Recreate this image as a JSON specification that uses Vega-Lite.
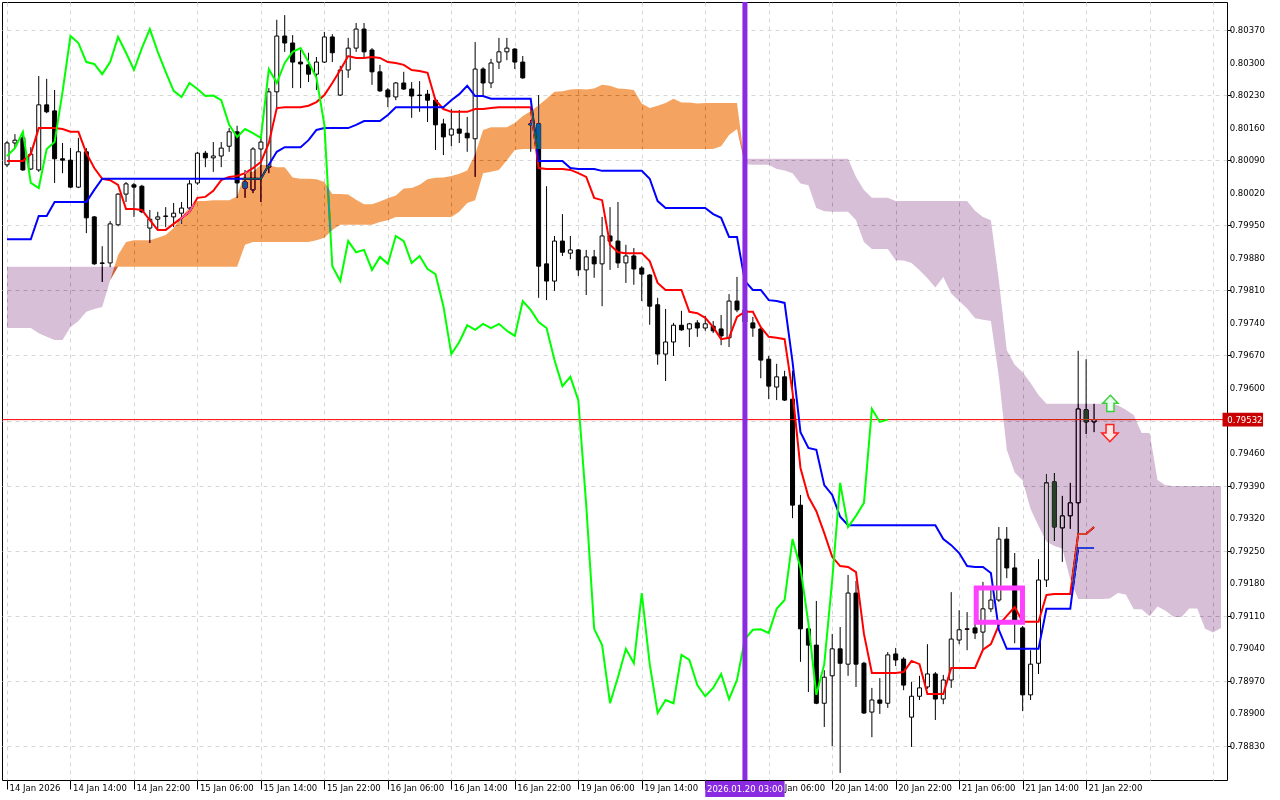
{
  "$schema": "https://vega.github.io/schema/vega-lite/v6.json",
  "width": 1225,
  "height": 778,
  "autosize": {"type": "none"},
  "padding": {"left": 2, "top": 2, "right": 53, "bottom": 20},
  "background": "#ffffff",
  "config": {"view": {"stroke": "#000000", "strokeWidth": 1}, "font": "DejaVu Sans"},
  "datasets": {
    "bars": [
      {"i":0,"o":0.80080,"h":0.80131,"l":0.80075,"c":0.80127,"t":0.80088,"k":0.79920,"g":0.80099},
      {"i":1,"o":0.80127,"h":0.80146,"l":0.80116,"c":0.80133,"t":0.80088,"k":0.79920,"g":0.80116},
      {"i":2,"o":0.80138,"h":0.80151,"l":0.80067,"c":0.80069,"t":0.80088,"k":0.79920,"g":0.80151},
      {"i":3,"o":0.80071,"h":0.80118,"l":0.80069,"c":0.80103,"t":0.80103,"k":0.79920,"g":0.80041},
      {"i":4,"o":0.80069,"h":0.80271,"l":0.80065,"c":0.80209,"t":0.80159,"k":0.79970,"g":0.80030},
      {"i":5,"o":0.80209,"h":0.80265,"l":0.80191,"c":0.80194,"t":0.80159,"k":0.79970,"g":0.80114},
      {"i":6,"o":0.80196,"h":0.80241,"l":0.80041,"c":0.80093,"t":0.80159,"k":0.80000,"g":0.80129},
      {"i":7,"o":0.80093,"h":0.80127,"l":0.80062,"c":0.80090,"t":0.80157,"k":0.80000,"g":0.80237},
      {"i":8,"o":0.80090,"h":0.80116,"l":0.80030,"c":0.80032,"t":0.80151,"k":0.80000,"g":0.80357},
      {"i":9,"o":0.80032,"h":0.80138,"l":0.80030,"c":0.80108,"t":0.80151,"k":0.80000,"g":0.80342},
      {"i":10,"o":0.80108,"h":0.80116,"l":0.79933,"c":0.79966,"t":0.80105,"k":0.80000,"g":0.80301},
      {"i":11,"o":0.79968,"h":0.79970,"l":0.79865,"c":0.79867,"t":0.80073,"k":0.80026,"g":0.80297},
      {"i":12,"o":0.79869,"h":0.79905,"l":0.79828,"c":0.79868,"t":0.80050,"k":0.80050,"g":0.80275},
      {"i":13,"o":0.79869,"h":0.79959,"l":0.79860,"c":0.79953,"t":0.80047,"k":0.80050,"g":0.80301},
      {"i":14,"o":0.79951,"h":0.80019,"l":0.79948,"c":0.80017,"t":0.80037,"k":0.80050,"g":0.80355},
      {"i":15,"o":0.80017,"h":0.80043,"l":0.80000,"c":0.80039,"t":0.79985,"k":0.80050,"g":0.80321},
      {"i":16,"o":0.80037,"h":0.80041,"l":0.79968,"c":0.80032,"t":0.79985,"k":0.80050,"g":0.80284},
      {"i":17,"o":0.80034,"h":0.80037,"l":0.79976,"c":0.79979,"t":0.79983,"k":0.80050,"g":0.80331},
      {"i":18,"o":0.79944,"h":0.79983,"l":0.79912,"c":0.79963,"t":0.79961,"k":0.80050,"g":0.80372},
      {"i":19,"o":0.79963,"h":0.79979,"l":0.79940,"c":0.79968,"t":0.79940,"k":0.80050,"g":0.80323},
      {"i":20,"o":0.79970,"h":0.79989,"l":0.79946,"c":0.79969,"t":0.79940,"k":0.80050,"g":0.80280},
      {"i":21,"o":0.79968,"h":0.79998,"l":0.79946,"c":0.79976,"t":0.79953,"k":0.80050,"g":0.80239},
      {"i":22,"o":0.79976,"h":0.80000,"l":0.79953,"c":0.79987,"t":0.79966,"k":0.80050,"g":0.80226},
      {"i":23,"o":0.79987,"h":0.80047,"l":0.79983,"c":0.80039,"t":0.79979,"k":0.80050,"g":0.80256},
      {"i":24,"o":0.80041,"h":0.80108,"l":0.80037,"c":0.80105,"t":0.80009,"k":0.80050,"g":0.80243},
      {"i":25,"o":0.80105,"h":0.80110,"l":0.80075,"c":0.80095,"t":0.80011,"k":0.80050,"g":0.80228},
      {"i":26,"o":0.80095,"h":0.80129,"l":0.80065,"c":0.80099,"t":0.80024,"k":0.80050,"g":0.80229},
      {"i":27,"o":0.80099,"h":0.80129,"l":0.80075,"c":0.80116,"t":0.80047,"k":0.80050,"g":0.80219},
      {"i":28,"o":0.80120,"h":0.80159,"l":0.80108,"c":0.80151,"t":0.80054,"k":0.80050,"g":0.80166},
      {"i":29,"o":0.80151,"h":0.80164,"l":0.80009,"c":0.80041,"t":0.80056,"k":0.80050,"g":0.80140},
      {"i":30,"o":0.80043,"h":0.80069,"l":0.80009,"c":0.80030,"t":0.80062,"k":0.80050,"g":0.80157},
      {"i":31,"o":0.80026,"h":0.80118,"l":0.80019,"c":0.80114,"t":0.80073,"k":0.80050,"g":0.80148},
      {"i":32,"o":0.80114,"h":0.80138,"l":0.80000,"c":0.80129,"t":0.80086,"k":0.80050,"g":0.80138},
      {"i":33,"o":0.80075,"h":0.80245,"l":0.80062,"c":0.80237,"t":0.80127,"k":0.80080,"g":0.80286},
      {"i":34,"o":0.80237,"h":0.80392,"l":0.80198,"c":0.80357,"t":0.80202,"k":0.80108,"g":0.80256},
      {"i":35,"o":0.80357,"h":0.80402,"l":0.80323,"c":0.80342,"t":0.80204,"k":0.80118,"g":0.80299},
      {"i":36,"o":0.80342,"h":0.80359,"l":0.80245,"c":0.80301,"t":0.80204,"k":0.80118,"g":0.80323},
      {"i":37,"o":0.80301,"h":0.80327,"l":0.80245,"c":0.80297,"t":0.80204,"k":0.80118,"g":0.80331},
      {"i":38,"o":0.80295,"h":0.80321,"l":0.80258,"c":0.80275,"t":0.80207,"k":0.80133,"g":0.80301},
      {"i":39,"o":0.80275,"h":0.80312,"l":0.80241,"c":0.80301,"t":0.80215,"k":0.80155,"g":0.80267},
      {"i":40,"o":0.80301,"h":0.80366,"l":0.80299,"c":0.80355,"t":0.80230,"k":0.80159,"g":0.80166},
      {"i":41,"o":0.80355,"h":0.80361,"l":0.80301,"c":0.80321,"t":0.80256,"k":0.80159,"g":0.79862},
      {"i":42,"o":0.80230,"h":0.80293,"l":0.80228,"c":0.80284,"t":0.80284,"k":0.80159,"g":0.79830},
      {"i":43,"o":0.80284,"h":0.80353,"l":0.80267,"c":0.80331,"t":0.80314,"k":0.80159,"g":0.79916},
      {"i":44,"o":0.80331,"h":0.80385,"l":0.80323,"c":0.80372,"t":0.80310,"k":0.80166,"g":0.79892},
      {"i":45,"o":0.80372,"h":0.80385,"l":0.80310,"c":0.80323,"t":0.80310,"k":0.80174,"g":0.79897},
      {"i":46,"o":0.80327,"h":0.80331,"l":0.80252,"c":0.80280,"t":0.80312,"k":0.80174,"g":0.79854},
      {"i":47,"o":0.80280,"h":0.80295,"l":0.80237,"c":0.80239,"t":0.80310,"k":0.80174,"g":0.79882},
      {"i":48,"o":0.80241,"h":0.80245,"l":0.80204,"c":0.80226,"t":0.80301,"k":0.80187,"g":0.79867},
      {"i":49,"o":0.80226,"h":0.80258,"l":0.80219,"c":0.80256,"t":0.80299,"k":0.80204,"g":0.79927},
      {"i":50,"o":0.80256,"h":0.80280,"l":0.80241,"c":0.80243,"t":0.80295,"k":0.80204,"g":0.79916},
      {"i":51,"o":0.80243,"h":0.80258,"l":0.80181,"c":0.80228,"t":0.80284,"k":0.80204,"g":0.79869},
      {"i":52,"o":0.80230,"h":0.80260,"l":0.80194,"c":0.80229,"t":0.80282,"k":0.80204,"g":0.79884},
      {"i":53,"o":0.80232,"h":0.80241,"l":0.80172,"c":0.80219,"t":0.80278,"k":0.80204,"g":0.79856},
      {"i":54,"o":0.80219,"h":0.80224,"l":0.80112,"c":0.80166,"t":0.80219,"k":0.80204,"g":0.79845},
      {"i":55,"o":0.80168,"h":0.80179,"l":0.80101,"c":0.80140,"t":0.80200,"k":0.80204,"g":0.79776},
      {"i":56,"o":0.80144,"h":0.80200,"l":0.80120,"c":0.80157,"t":0.80194,"k":0.80219,"g":0.79673},
      {"i":57,"o":0.80157,"h":0.80198,"l":0.80127,"c":0.80148,"t":0.80194,"k":0.80232,"g":0.79699},
      {"i":58,"o":0.80148,"h":0.80183,"l":0.80108,"c":0.80138,"t":0.80194,"k":0.80250,"g":0.79735},
      {"i":59,"o":0.80136,"h":0.80344,"l":0.80054,"c":0.80286,"t":0.80200,"k":0.80228,"g":0.79725},
      {"i":60,"o":0.80286,"h":0.80290,"l":0.80226,"c":0.80256,"t":0.80200,"k":0.80228,"g":0.79738},
      {"i":61,"o":0.80256,"h":0.80308,"l":0.80245,"c":0.80299,"t":0.80202,"k":0.80222,"g":0.79729},
      {"i":62,"o":0.80301,"h":0.80353,"l":0.80286,"c":0.80323,"t":0.80204,"k":0.80222,"g":0.79738},
      {"i":63,"o":0.80323,"h":0.80353,"l":0.80305,"c":0.80331,"t":0.80204,"k":0.80222,"g":0.79723},
      {"i":64,"o":0.80329,"h":0.80331,"l":0.80286,"c":0.80301,"t":0.80204,"k":0.80222,"g":0.79712},
      {"i":65,"o":0.80301,"h":0.80314,"l":0.80265,"c":0.80267,"t":0.80204,"k":0.80222,"g":0.79787},
      {"i":66,"o":0.80168,"h":0.80176,"l":0.80108,"c":0.80166,"t":0.80204,"k":0.80222,"g":0.79768},
      {"i":67,"o":0.80168,"h":0.80230,"l":0.79794,"c":0.79862,"t":0.80073,"k":0.80088,"g":0.79742},
      {"i":68,"o":0.79867,"h":0.80034,"l":0.79789,"c":0.79830,"t":0.80071,"k":0.80088,"g":0.79729},
      {"i":69,"o":0.79830,"h":0.79927,"l":0.79809,"c":0.79916,"t":0.80071,"k":0.80088,"g":0.79660},
      {"i":70,"o":0.79916,"h":0.79974,"l":0.79884,"c":0.79892,"t":0.80071,"k":0.80088,"g":0.79604},
      {"i":71,"o":0.79890,"h":0.79927,"l":0.79877,"c":0.79897,"t":0.80069,"k":0.80073,"g":0.79624},
      {"i":72,"o":0.79897,"h":0.79899,"l":0.79841,"c":0.79854,"t":0.80062,"k":0.80071,"g":0.79574},
      {"i":73,"o":0.79854,"h":0.79897,"l":0.79800,"c":0.79882,"t":0.80054,"k":0.80071,"g":0.79348},
      {"i":74,"o":0.79882,"h":0.79897,"l":0.79837,"c":0.79867,"t":0.80009,"k":0.80071,"g":0.79082},
      {"i":75,"o":0.79867,"h":0.79968,"l":0.79776,"c":0.79927,"t":0.80004,"k":0.80067,"g":0.79047},
      {"i":76,"o":0.79927,"h":0.79989,"l":0.79854,"c":0.79916,"t":0.79908,"k":0.80067,"g":0.78922},
      {"i":77,"o":0.79916,"h":0.80000,"l":0.79858,"c":0.79869,"t":0.79892,"k":0.80067,"g":0.78978},
      {"i":78,"o":0.79869,"h":0.79908,"l":0.79826,"c":0.79884,"t":0.79890,"k":0.80067,"g":0.79039},
      {"i":79,"o":0.79884,"h":0.79901,"l":0.79822,"c":0.79856,"t":0.79890,"k":0.80067,"g":0.79008},
      {"i":80,"o":0.79858,"h":0.79862,"l":0.79787,"c":0.79845,"t":0.79890,"k":0.80067,"g":0.79159},
      {"i":81,"o":0.79843,"h":0.79845,"l":0.79736,"c":0.79776,"t":0.79873,"k":0.80050,"g":0.79006},
      {"i":82,"o":0.79779,"h":0.79794,"l":0.79650,"c":0.79673,"t":0.79826,"k":0.80002,"g":0.78901},
      {"i":83,"o":0.79673,"h":0.79770,"l":0.79615,"c":0.79699,"t":0.79811,"k":0.79987,"g":0.78929},
      {"i":84,"o":0.79699,"h":0.79740,"l":0.79669,"c":0.79735,"t":0.79811,"k":0.79987,"g":0.78922},
      {"i":85,"o":0.79735,"h":0.79766,"l":0.79723,"c":0.79725,"t":0.79811,"k":0.79987,"g":0.79026},
      {"i":86,"o":0.79727,"h":0.79740,"l":0.79688,"c":0.79738,"t":0.79764,"k":0.79987,"g":0.79015},
      {"i":87,"o":0.79740,"h":0.79746,"l":0.79710,"c":0.79729,"t":0.79761,"k":0.79987,"g":0.78961},
      {"i":88,"o":0.79729,"h":0.79755,"l":0.79723,"c":0.79738,"t":0.79751,"k":0.79987,"g":0.78937},
      {"i":89,"o":0.79733,"h":0.79744,"l":0.79718,"c":0.79723,"t":0.79731,"k":0.79974,"g":0.78955},
      {"i":90,"o":0.79727,"h":0.79757,"l":0.79692,"c":0.79712,"t":0.79705,"k":0.79966,"g":0.78985},
      {"i":91,"o":0.79708,"h":0.79802,"l":0.79688,"c":0.79787,"t":0.79708,"k":0.79925,"g":0.78931},
      {"i":92,"o":0.79787,"h":0.79839,"l":0.79763,"c":0.79768,"t":0.79753,"k":0.79925,"g":0.78972},
      {"i":93,"o":0.79768,"h":0.79783,"l":0.79729,"c":0.79742,"t":0.79764,"k":0.79830,"g":0.79060},
      {"i":94,"o":0.79740,"h":0.79753,"l":0.79710,"c":0.79729,"t":0.79764,"k":0.79811,"g":0.79080},
      {"i":95,"o":0.79727,"h":0.79731,"l":0.79621,"c":0.79660,"t":0.79731,"k":0.79811,"g":0.79081},
      {"i":96,"o":0.79662,"h":0.79669,"l":0.79576,"c":0.79604,"t":0.79710,"k":0.79789,"g":0.79073},
      {"i":97,"o":0.79602,"h":0.79652,"l":0.79574,"c":0.79624,"t":0.79708,"k":0.79787,"g":0.79125},
      {"i":98,"o":0.79624,"h":0.79637,"l":0.79572,"c":0.79574,"t":0.79705,"k":0.79783,"g":0.79144},
      {"i":99,"o":0.79576,"h":0.79637,"l":0.79320,"c":0.79348,"t":0.79591,"k":0.79656,"g":0.79275},
      {"i":100,"o":0.79348,"h":0.79370,"l":0.79011,"c":0.79082,"t":0.79428,"k":0.79505,"g":0.79213},
      {"i":101,"o":0.79082,"h":0.79086,"l":0.78946,"c":0.79047,"t":0.79366,"k":0.79471,"g":0.79094},
      {"i":102,"o":0.79047,"h":0.79142,"l":0.78920,"c":0.78922,"t":0.79335,"k":0.79467,"g":0.78940},
      {"i":103,"o":0.78922,"h":0.78993,"l":0.78871,"c":0.78978,"t":0.79288,"k":0.79391,"g":0.79006},
      {"i":104,"o":0.78981,"h":0.79071,"l":0.78830,"c":0.79039,"t":0.79237,"k":0.79370,"g":0.79187},
      {"i":105,"o":0.79039,"h":0.79086,"l":0.78772,"c":0.79008,"t":0.79217,"k":0.79323,"g":0.79396},
      {"i":106,"o":0.79006,"h":0.79198,"l":0.78981,"c":0.79159,"t":0.79215,"k":0.79305,"g":0.79301},
      {"i":107,"o":0.79159,"h":0.79185,"l":0.78957,"c":0.79006,"t":0.79204,"k":0.79305,"g":0.79325},
      {"i":108,"o":0.79008,"h":0.79011,"l":0.78899,"c":0.78901,"t":0.79071,"k":0.79305,"g":0.79353},
      {"i":109,"o":0.78903,"h":0.78955,"l":0.78849,"c":0.78929,"t":0.78987,"k":0.79305,"g":0.79555},
      {"i":110,"o":0.78929,"h":0.78976,"l":0.78899,"c":0.78922,"t":0.78987,"k":0.79305,"g":0.79527},
      {"i":111,"o":0.78922,"h":0.79032,"l":0.78912,"c":0.79026,"t":0.78987,"k":0.79305,"g":0.79532},
      {"i":112,"o":0.79028,"h":0.79041,"l":0.79002,"c":0.79015,"t":0.78987,"k":0.79305},
      {"i":113,"o":0.79017,"h":0.79021,"l":0.78950,"c":0.78961,"t":0.78989,"k":0.79305},
      {"i":114,"o":0.78892,"h":0.78968,"l":0.78828,"c":0.78937,"t":0.79013,"k":0.79305},
      {"i":115,"o":0.78937,"h":0.78981,"l":0.78929,"c":0.78955,"t":0.79006,"k":0.79305},
      {"i":116,"o":0.78957,"h":0.79049,"l":0.78953,"c":0.78985,"t":0.78942,"k":0.79305},
      {"i":117,"o":0.78985,"h":0.78989,"l":0.78886,"c":0.78931,"t":0.78942,"k":0.79305},
      {"i":118,"o":0.78931,"h":0.78983,"l":0.78920,"c":0.78972,"t":0.78942,"k":0.79275},
      {"i":119,"o":0.78972,"h":0.79161,"l":0.78955,"c":0.79060,"t":0.78998,"k":0.79262},
      {"i":120,"o":0.79058,"h":0.79122,"l":0.79049,"c":0.79080,"t":0.78998,"k":0.79245},
      {"i":121,"o":0.79082,"h":0.79118,"l":0.79036,"c":0.79081,"t":0.78998,"k":0.79217},
      {"i":122,"o":0.79084,"h":0.79101,"l":0.79060,"c":0.79073,"t":0.78998,"k":0.79215},
      {"i":123,"o":0.79075,"h":0.79183,"l":0.79036,"c":0.79125,"t":0.79037,"k":0.79215},
      {"i":124,"o":0.79125,"h":0.79168,"l":0.79118,"c":0.79144,"t":0.79049,"k":0.79202},
      {"i":125,"o":0.79144,"h":0.79301,"l":0.79140,"c":0.79275,"t":0.79090,"k":0.79080},
      {"i":126,"o":0.79275,"h":0.79301,"l":0.79191,"c":0.79213,"t":0.79110,"k":0.79039},
      {"i":127,"o":0.79213,"h":0.79245,"l":0.79051,"c":0.79094,"t":0.79129,"k":0.79039},
      {"i":128,"o":0.79084,"h":0.79088,"l":0.78905,"c":0.78940,"t":0.79097,"k":0.79039},
      {"i":129,"o":0.78940,"h":0.79036,"l":0.78929,"c":0.79006,"t":0.79097,"k":0.79039},
      {"i":130,"o":0.79008,"h":0.79232,"l":0.78985,"c":0.79187,"t":0.79097,"k":0.79039},
      {"i":131,"o":0.79187,"h":0.79415,"l":0.79172,"c":0.79396,"t":0.79155,"k":0.79125},
      {"i":132,"o":0.79398,"h":0.79417,"l":0.79271,"c":0.79301,"t":0.79157,"k":0.79125},
      {"i":133,"o":0.79299,"h":0.79368,"l":0.79226,"c":0.79325,"t":0.79157,"k":0.79125},
      {"i":134,"o":0.79325,"h":0.79396,"l":0.79297,"c":0.79353,"t":0.79157,"k":0.79125},
      {"i":135,"o":0.79353,"h":0.79680,"l":0.79288,"c":0.79555,"t":0.79286,"k":0.79256},
      {"i":136,"o":0.79553,"h":0.79662,"l":0.79501,"c":0.79527,"t":0.79286,"k":0.79256},
      {"i":137,"o":0.79527,"h":0.79566,"l":0.79505,"c":0.79532,"t":0.79301,"k":0.79256}
    ],
    "cloud": [
      {"i":0,"a":0.79729,"b":0.79861,"m":0.79729},
      {"i":1,"a":0.79729,"b":0.79861,"m":0.79729},
      {"i":2,"a":0.79729,"b":0.79861,"m":0.79729},
      {"i":3,"a":0.79729,"b":0.79861,"m":0.79729},
      {"i":4,"a":0.79718,"b":0.79861,"m":0.79718},
      {"i":5,"a":0.79710,"b":0.79861,"m":0.79710},
      {"i":6,"a":0.79703,"b":0.79861,"m":0.79703},
      {"i":7,"a":0.79703,"b":0.79861,"m":0.79703},
      {"i":8,"a":0.79731,"b":0.79861,"m":0.79731},
      {"i":9,"a":0.79744,"b":0.79861,"m":0.79744},
      {"i":10,"a":0.79764,"b":0.79861,"m":0.79764},
      {"i":11,"a":0.79770,"b":0.79861,"m":0.79770},
      {"i":12,"a":0.79774,"b":0.79861,"m":0.79774},
      {"i":13,"a":0.79832,"b":0.79861,"m":0.79832},
      {"i":14,"a":0.79886,"b":0.79861,"m":0.79861},
      {"i":15,"a":0.79914,"b":0.79861,"m":0.79861},
      {"i":16,"a":0.79918,"b":0.79861,"m":0.79861},
      {"i":17,"a":0.79918,"b":0.79861,"m":0.79861},
      {"i":18,"a":0.79918,"b":0.79861,"m":0.79861},
      {"i":19,"a":0.79923,"b":0.79861,"m":0.79861},
      {"i":20,"a":0.79929,"b":0.79861,"m":0.79861},
      {"i":21,"a":0.79944,"b":0.79861,"m":0.79861},
      {"i":22,"a":0.79968,"b":0.79861,"m":0.79861},
      {"i":23,"a":0.79989,"b":0.79861,"m":0.79861},
      {"i":24,"a":0.80002,"b":0.79861,"m":0.79861},
      {"i":25,"a":0.80002,"b":0.79861,"m":0.79861},
      {"i":26,"a":0.80004,"b":0.79861,"m":0.79861},
      {"i":27,"a":0.80004,"b":0.79861,"m":0.79861},
      {"i":28,"a":0.80004,"b":0.79861,"m":0.79861},
      {"i":29,"a":0.80012,"b":0.79861,"m":0.79861},
      {"i":30,"a":0.80065,"b":0.79908,"m":0.79908},
      {"i":31,"a":0.80065,"b":0.79914,"m":0.79914},
      {"i":32,"a":0.80080,"b":0.79914,"m":0.79914},
      {"i":33,"a":0.80079,"b":0.79914,"m":0.79914},
      {"i":34,"a":0.80075,"b":0.79914,"m":0.79914},
      {"i":35,"a":0.80075,"b":0.79914,"m":0.79914},
      {"i":36,"a":0.80053,"b":0.79914,"m":0.79914},
      {"i":37,"a":0.80050,"b":0.79914,"m":0.79914},
      {"i":38,"a":0.80050,"b":0.79914,"m":0.79914},
      {"i":39,"a":0.80049,"b":0.79918,"m":0.79918},
      {"i":40,"a":0.80043,"b":0.79923,"m":0.79923},
      {"i":41,"a":0.80017,"b":0.79940,"m":0.79940},
      {"i":42,"a":0.80017,"b":0.79951,"m":0.79951},
      {"i":43,"a":0.80016,"b":0.79951,"m":0.79951},
      {"i":44,"a":0.80005,"b":0.79951,"m":0.79951},
      {"i":45,"a":0.79995,"b":0.79951,"m":0.79951},
      {"i":46,"a":0.79995,"b":0.79951,"m":0.79951},
      {"i":47,"a":0.80001,"b":0.79957,"m":0.79957},
      {"i":48,"a":0.80008,"b":0.79961,"m":0.79961},
      {"i":49,"a":0.80014,"b":0.79968,"m":0.79968},
      {"i":50,"a":0.80029,"b":0.79968,"m":0.79968},
      {"i":51,"a":0.80030,"b":0.79968,"m":0.79968},
      {"i":52,"a":0.80037,"b":0.79968,"m":0.79968},
      {"i":53,"a":0.80049,"b":0.79968,"m":0.79968},
      {"i":54,"a":0.80052,"b":0.79968,"m":0.79968},
      {"i":55,"a":0.80053,"b":0.79968,"m":0.79968},
      {"i":56,"a":0.80056,"b":0.79968,"m":0.79968},
      {"i":57,"a":0.80061,"b":0.79979,"m":0.79979},
      {"i":58,"a":0.80068,"b":0.79998,"m":0.79998},
      {"i":59,"a":0.80103,"b":0.80004,"m":0.80004},
      {"i":60,"a":0.80155,"b":0.80062,"m":0.80062},
      {"i":61,"a":0.80161,"b":0.80065,"m":0.80065},
      {"i":62,"a":0.80161,"b":0.80069,"m":0.80069},
      {"i":63,"a":0.80161,"b":0.80090,"m":0.80090},
      {"i":64,"a":0.80170,"b":0.80112,"m":0.80112},
      {"i":65,"a":0.80185,"b":0.80114,"m":0.80114},
      {"i":66,"a":0.80195,"b":0.80114,"m":0.80114},
      {"i":67,"a":0.80208,"b":0.80114,"m":0.80114},
      {"i":68,"a":0.80222,"b":0.80114,"m":0.80114},
      {"i":69,"a":0.80237,"b":0.80114,"m":0.80114},
      {"i":70,"a":0.80238,"b":0.80114,"m":0.80114},
      {"i":71,"a":0.80242,"b":0.80114,"m":0.80114},
      {"i":72,"a":0.80243,"b":0.80114,"m":0.80114},
      {"i":73,"a":0.80242,"b":0.80114,"m":0.80114},
      {"i":74,"a":0.80244,"b":0.80114,"m":0.80114},
      {"i":75,"a":0.80252,"b":0.80114,"m":0.80114},
      {"i":76,"a":0.80250,"b":0.80114,"m":0.80114},
      {"i":77,"a":0.80244,"b":0.80114,"m":0.80114},
      {"i":78,"a":0.80243,"b":0.80114,"m":0.80114},
      {"i":79,"a":0.80241,"b":0.80114,"m":0.80114},
      {"i":80,"a":0.80212,"b":0.80114,"m":0.80114},
      {"i":81,"a":0.80202,"b":0.80114,"m":0.80114},
      {"i":82,"a":0.80207,"b":0.80114,"m":0.80114},
      {"i":83,"a":0.80213,"b":0.80114,"m":0.80114},
      {"i":84,"a":0.80222,"b":0.80114,"m":0.80114},
      {"i":85,"a":0.80214,"b":0.80114,"m":0.80114},
      {"i":86,"a":0.80214,"b":0.80114,"m":0.80114},
      {"i":87,"a":0.80212,"b":0.80114,"m":0.80114},
      {"i":88,"a":0.80213,"b":0.80114,"m":0.80114},
      {"i":89,"a":0.80213,"b":0.80114,"m":0.80114},
      {"i":90,"a":0.80213,"b":0.80120,"m":0.80120},
      {"i":91,"a":0.80213,"b":0.80144,"m":0.80144},
      {"i":92,"a":0.80213,"b":0.80157,"m":0.80157},
      {"i":93,"a":0.80081,"b":0.80093,"m":0.80081},
      {"i":94,"a":0.80080,"b":0.80093,"m":0.80080},
      {"i":95,"a":0.80080,"b":0.80093,"m":0.80080},
      {"i":96,"a":0.80080,"b":0.80093,"m":0.80080},
      {"i":97,"a":0.80071,"b":0.80093,"m":0.80071},
      {"i":98,"a":0.80068,"b":0.80093,"m":0.80068},
      {"i":99,"a":0.80062,"b":0.80093,"m":0.80062},
      {"i":100,"a":0.80040,"b":0.80093,"m":0.80040},
      {"i":101,"a":0.80036,"b":0.80093,"m":0.80036},
      {"i":102,"a":0.79987,"b":0.80093,"m":0.79987},
      {"i":103,"a":0.79980,"b":0.80093,"m":0.79980},
      {"i":104,"a":0.79979,"b":0.80093,"m":0.79979},
      {"i":105,"a":0.79979,"b":0.80093,"m":0.79979},
      {"i":106,"a":0.79979,"b":0.80093,"m":0.79979},
      {"i":107,"a":0.79961,"b":0.80054,"m":0.79961},
      {"i":108,"a":0.79914,"b":0.80026,"m":0.79914},
      {"i":109,"a":0.79899,"b":0.80009,"m":0.79899},
      {"i":110,"a":0.79899,"b":0.80009,"m":0.79899},
      {"i":111,"a":0.79899,"b":0.80009,"m":0.79899},
      {"i":112,"a":0.79875,"b":0.80002,"m":0.79875},
      {"i":113,"a":0.79874,"b":0.80002,"m":0.79874},
      {"i":114,"a":0.79869,"b":0.80002,"m":0.79869},
      {"i":115,"a":0.79853,"b":0.80002,"m":0.79853},
      {"i":116,"a":0.79836,"b":0.80002,"m":0.79836},
      {"i":117,"a":0.79816,"b":0.80002,"m":0.79816},
      {"i":118,"a":0.79839,"b":0.80002,"m":0.79839},
      {"i":119,"a":0.79803,"b":0.80002,"m":0.79803},
      {"i":120,"a":0.79787,"b":0.80002,"m":0.79787},
      {"i":121,"a":0.79771,"b":0.80002,"m":0.79771},
      {"i":122,"a":0.79750,"b":0.79981,"m":0.79750},
      {"i":123,"a":0.79747,"b":0.79968,"m":0.79747},
      {"i":124,"a":0.79744,"b":0.79961,"m":0.79744},
      {"i":125,"a":0.79624,"b":0.79832,"m":0.79624},
      {"i":126,"a":0.79467,"b":0.79682,"m":0.79467},
      {"i":127,"a":0.79418,"b":0.79650,"m":0.79418},
      {"i":128,"a":0.79401,"b":0.79634,"m":0.79401},
      {"i":129,"a":0.79340,"b":0.79611,"m":0.79340},
      {"i":130,"a":0.79303,"b":0.79585,"m":0.79303},
      {"i":131,"a":0.79270,"b":0.79566,"m":0.79270},
      {"i":132,"a":0.79260,"b":0.79566,"m":0.79260},
      {"i":133,"a":0.79255,"b":0.79566,"m":0.79255},
      {"i":134,"a":0.79188,"b":0.79566,"m":0.79188},
      {"i":135,"a":0.79146,"b":0.79566,"m":0.79146},
      {"i":136,"a":0.79146,"b":0.79566,"m":0.79146},
      {"i":137,"a":0.79146,"b":0.79566,"m":0.79146},
      {"i":138,"a":0.79146,"b":0.79566,"m":0.79146},
      {"i":139,"a":0.79147,"b":0.79566,"m":0.79147},
      {"i":140,"a":0.79159,"b":0.79563,"m":0.79159},
      {"i":141,"a":0.79156,"b":0.79553,"m":0.79156},
      {"i":142,"a":0.79124,"b":0.79542,"m":0.79124},
      {"i":143,"a":0.79124,"b":0.79503,"m":0.79124},
      {"i":144,"a":0.79109,"b":0.79503,"m":0.79109},
      {"i":145,"a":0.79130,"b":0.79402,"m":0.79130},
      {"i":146,"a":0.79121,"b":0.79391,"m":0.79121},
      {"i":147,"a":0.79108,"b":0.79389,"m":0.79108},
      {"i":148,"a":0.79107,"b":0.79389,"m":0.79107},
      {"i":149,"a":0.79126,"b":0.79389,"m":0.79126},
      {"i":150,"a":0.79126,"b":0.79389,"m":0.79126},
      {"i":151,"a":0.79082,"b":0.79389,"m":0.79082},
      {"i":152,"a":0.79074,"b":0.79389,"m":0.79074},
      {"i":153,"a":0.79084,"b":0.79389,"m":0.79084}
    ],
    "ylab": [
      {"v":0.7883},{"v":0.789},{"v":0.7897},{"v":0.7904},{"v":0.7911},{"v":0.7918},{"v":0.7925},{"v":0.7932},{"v":0.7939},{"v":0.7946},
      {"v":0.796},{"v":0.7967},{"v":0.7974},{"v":0.7981},{"v":0.7988},{"v":0.7995},{"v":0.8002},{"v":0.8009},{"v":0.8016},{"v":0.8023},{"v":0.803},{"v":0.8037}
    ],
    "last": [{"p": 0.79532, "lbl": "0.79532"}],
    "vtime": [{"i": 93, "lbl": "2026.01.20 03:00"}]
  },
  "layer": [
    {
      "data": {"name": "bars"},
      "mark": {"type": "rule", "color": "#000000", "strokeWidth": 1},
      "encoding": {
        "x": {"field": "i", "type": "quantitative", "title": null, "scale": {"domain": [0, 153.125], "nice": false, "zero": false},
          "axis": {
            "orient": "bottom", "title": null, "domain": false,
            "values": [0,4,8,12,16,20,24,28,32,36,40,44,48,52,56,60,64,68,72,76,80,84,88,92,96,100,104,108,112,116,120,124,128,132,136,140,144,148,152],
            "labelExpr": "(datum.value % 8 == 0 && datum.value <= 136 && datum.value != 88) ? ['14 Jan 2026','14 Jan 14:00','14 Jan 22:00','15 Jan 06:00','15 Jan 14:00','15 Jan 22:00','16 Jan 06:00','16 Jan 14:00','16 Jan 22:00','19 Jan 06:00','19 Jan 14:00','19 Jan 22:00','20 Jan 06:00','20 Jan 14:00','20 Jan 22:00','21 Jan 06:00','21 Jan 14:00','21 Jan 22:00'][datum.value / 8] : ''",
            "grid": true, "gridColor": "#d6d6d6", "gridDash": [4, 4], "gridWidth": 1,
            "tickColor": {"condition": {"test": "datum.value % 8 == 0 && datum.value <= 136", "value": "#000000"}, "value": "rgba(0,0,0,0)"},
            "tickSize": 9, "tickWidth": 1,
            "labelAlign": "left", "labelBaseline": "top", "labelPadding": -6, "labelOffset": 2,
            "labelFont": "DejaVu Sans", "labelFontSize": 8.5, "labelColor": "#000000",
            "labelFlush": false, "labelOverlap": false
          }
        },
        "y": {"field": "l", "type": "quantitative", "title": null, "scale": {"domain": [0.787569, 0.804302], "nice": false, "zero": false},
          "axis": {
            "orient": "right", "title": null, "domain": false, "labels": false,
            "values": [0.7883,0.789,0.7897,0.7904,0.7911,0.7918,0.7925,0.7932,0.7939,0.7946,0.7953,0.796,0.7967,0.7974,0.7981,0.7988,0.7995,0.8002,0.8009,0.8016,0.8023,0.803,0.8037],
            "grid": true, "gridColor": "#d6d6d6", "gridDash": [4, 4], "gridWidth": 1,
            "tickColor": "#000000", "tickSize": 4, "tickWidth": 1
          }
        },
        "y2": {"field": "h"}
      }
    },
    {
      "data": {"name": "bars"},
      "mark": {"type": "bar", "width": 4, "stroke": "#000000", "strokeWidth": 1},
      "encoding": {
        "x": {"field": "i", "type": "quantitative", "title": null},
        "y": {"field": "o", "type": "quantitative", "title": null},
        "y2": {"field": "c"},
        "fill": {"condition": {"test": "datum.c < datum.o", "value": "#000000"}, "value": "#ffffff"}
      }
    },
    {
      "data": {"name": "last"},
      "mark": {"type": "rule", "color": "#ff0000", "strokeWidth": 1},
      "encoding": {
        "y": {"field": "p", "type": "quantitative", "title": null}
      }
    },
    {
      "data": {"name": "bars"},
      "mark": {"type": "line", "color": "#ff0000", "strokeWidth": 2, "interpolate": "linear"},
      "encoding": {
        "x": {"field": "i", "type": "quantitative", "title": null},
        "y": {"field": "t", "type": "quantitative", "title": null}
      }
    },
    {
      "data": {"name": "bars"},
      "mark": {"type": "line", "color": "#0000ff", "strokeWidth": 2, "interpolate": "linear"},
      "encoding": {
        "x": {"field": "i", "type": "quantitative", "title": null},
        "y": {"field": "k", "type": "quantitative", "title": null}
      }
    },
    {
      "data": {"name": "bars"},
      "mark": {"type": "line", "color": "#00ff00", "strokeWidth": 2, "interpolate": "linear"},
      "encoding": {
        "x": {"field": "i", "type": "quantitative", "title": null},
        "y": {"field": "g", "type": "quantitative", "title": null}
      }
    },
    {
      "data": {"name": "cloud"},
      "mark": {"type": "area", "color": "#0b5b9f", "opacity": 1, "orient": "vertical", "blend": "difference", "interpolate": "linear"},
      "encoding": {
        "x": {"field": "i", "type": "quantitative", "title": null},
        "y": {"field": "a", "type": "quantitative", "title": null},
        "y2": {"field": "m"}
      }
    },
    {
      "data": {"name": "cloud"},
      "mark": {"type": "area", "color": "#274027", "opacity": 1, "orient": "vertical", "blend": "difference", "interpolate": "linear"},
      "encoding": {
        "x": {"field": "i", "type": "quantitative", "title": null},
        "y": {"field": "b", "type": "quantitative", "title": null},
        "y2": {"field": "m"}
      }
    },
    {
      "data": {"name": "vtime"},
      "mark": {"type": "rule", "color": "#8a2be2", "strokeWidth": 5},
      "encoding": {
        "x": {"field": "i", "type": "quantitative", "title": null}
      }
    },
    {
      "data": {"values": [{}]},
      "mark": {"type": "rect", "fill": null, "fillOpacity": 0, "stroke": "#ff40ff", "strokeWidth": 5},
      "encoding": {
        "x": {"datum": 122.15, "type": "quantitative", "title": null},
        "x2": {"datum": 127.98},
        "y": {"datum": 0.79170, "type": "quantitative", "title": null},
        "y2": {"datum": 0.79096}
      }
    },
    {
      "data": {"values": [{}]},
      "mark": {"type": "point", "shape": "M-0.45,1L-0.45,0L-0.95,0L0,-1L0.95,0L0.45,0L0.45,1Z", "size": 260, "filled": true, "fill": "#eafff0", "stroke": "#3ccf3c", "strokeWidth": 1.5, "opacity": 1},
      "encoding": {
        "x": {"datum": 139.06, "type": "quantitative", "title": null},
        "y": {"datum": 0.79567, "type": "quantitative", "title": null}
      }
    },
    {
      "data": {"values": [{}]},
      "mark": {"type": "point", "shape": "M-0.45,-1L-0.45,0L-0.95,0L0,1L0.95,0L0.45,0L0.45,-1Z", "size": 300, "filled": true, "fill": "#ffe4e4", "stroke": "#ff2020", "strokeWidth": 1.5, "opacity": 1},
      "encoding": {
        "x": {"datum": 139.0, "type": "quantitative", "title": null},
        "y": {"datum": 0.79503, "type": "quantitative", "title": null}
      }
    },
    {
      "data": {"name": "ylab"},
      "mark": {"type": "text", "align": "left", "baseline": "middle", "font": "DejaVu Sans", "fontSize": 8.5, "color": "#000000"},
      "encoding": {
        "x": {"datum": 154.1, "type": "quantitative", "title": null},
        "y": {"field": "v", "type": "quantitative", "title": null},
        "text": {"field": "v", "type": "quantitative", "format": ".5f"}
      }
    },
    {
      "data": {"name": "last"},
      "mark": {"type": "rect", "fill": "#c80000"},
      "encoding": {
        "x": {"datum": 153.19, "type": "quantitative", "title": null},
        "x2": {"datum": 158.3},
        "y": {"datum": 0.79517, "type": "quantitative", "title": null},
        "y2": {"datum": 0.79547}
      }
    },
    {
      "data": {"name": "last"},
      "mark": {"type": "text", "align": "left", "baseline": "middle", "font": "DejaVu Sans", "fontSize": 8.5, "color": "#ffffff"},
      "encoding": {
        "x": {"datum": 153.8, "type": "quantitative", "title": null},
        "y": {"field": "p", "type": "quantitative", "title": null},
        "text": {"field": "lbl"}
      }
    },
    {
      "data": {"name": "vtime"},
      "mark": {"type": "rect", "fill": "#8a2be2"},
      "encoding": {
        "x": {"datum": 88.0, "type": "quantitative", "title": null},
        "x2": {"datum": 98.0},
        "y": {"datum": 0.787547, "type": "quantitative", "title": null},
        "y2": {"datum": 0.787203}
      }
    },
    {
      "data": {"name": "vtime"},
      "mark": {"type": "text", "align": "center", "baseline": "middle", "font": "DejaVu Sans", "fontSize": 8.5, "color": "#ffffff"},
      "encoding": {
        "x": {"field": "i", "type": "quantitative", "title": null},
        "y": {"datum": 0.787365, "type": "quantitative", "title": null},
        "text": {"field": "lbl"}
      }
    }
  ]
}
